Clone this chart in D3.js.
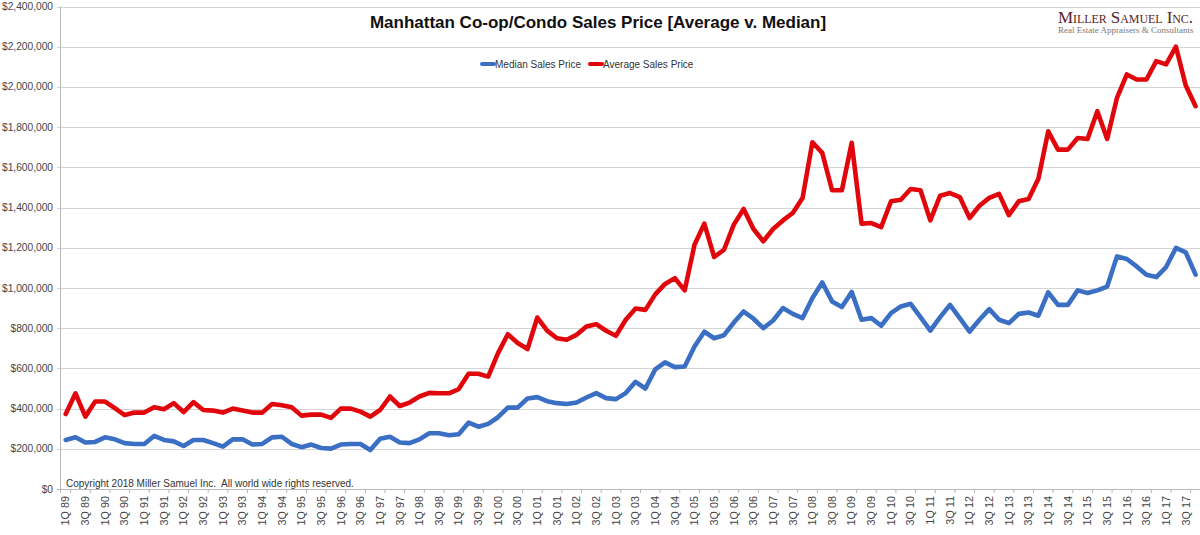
<!DOCTYPE html>
<html><head><meta charset="utf-8">
<script src="https://cdn.jsdelivr.net/npm/d3@7"></script>
<style>body{margin:0;background:#fff}svg{display:block}</style>
</head><body>
<svg id="c" width="1200" height="535"></svg>
<script>
const years = ["89","90","91","92","93","94","95","96","97","98","99","00","01","02","03","04","05","06","07","08","09","10","11","12","13","14","15","16","17"];
const quarters = ["1Q","2Q","3Q","4Q"];
const categories = years.flatMap(y => quarters.map(q => q + " " + y));

// values in $ thousands
const medianK = [244,257,231,234,257,247,228,224,224,264,244,237,214,244,244,228,211,247,247,221,
  224,257,260,224,208,221,204,201,221,224,224,194,250,260,231,228,247,277,277,267,
  272,330,310,324,357,405,405,450,457,437,427,423,430,455,477,452,447,477,533,500,
  595,630,606,609,709,782,750,765,828,883,847,800,838,900,871,850,950,1027,933,905,
  980,842,850,812,875,908,921,855,788,855,916,850,783,842,895,842,825,871,878,862,
  978,916,916,988,975,988,1007,1157,1144,1107,1066,1054,1104,1199,1177,1066];
const averageK = [373,476,360,435,435,402,368,380,380,407,397,427,383,432,393,390,380,400,390,380,
  380,423,417,407,365,370,370,354,400,400,385,360,393,460,413,430,460,478,476,476,
  497,573,573,559,676,770,726,696,853,788,750,742,767,808,820,787,762,842,898,891,
  968,1020,1049,988,1215,1320,1154,1190,1315,1393,1293,1232,1293,1336,1373,1448,1725,1672,1486,1486,
  1722,1320,1323,1303,1431,1439,1492,1486,1336,1459,1472,1452,1348,1409,1448,1468,1362,1431,1443,1543,
  1779,1688,1688,1746,1741,1879,1741,1946,2062,2037,2037,2128,2112,2200,2007,1904];
const yTicks = [0,200000,400000,600000,800000,1000000,1200000,1400000,1600000,1800000,2000000,2200000,2400000];
const seriesNames = ["Median Sales Price","Average Sales Price"];
const seriesColors = ["#3a6fc4","#e0060b"];
const titleText = "Manhattan Co-op/Condo Sales Price [Average v. Median]";
const copyrightText = "Copyright 2018 Miller Samuel Inc.  All world wide rights reserved.";
const logoName = "Miller Samuel Inc.";
const logoSub = "Real Estate Appraisers & Consultants";

const svg = d3.select("#c");
const font = "Arial, 'Liberation Sans', Helvetica, sans-serif";
const serif = "'Liberation Serif', 'Times New Roman', serif";
const plotLeft = 60.8, plotRight = 1200.5, plotTop = 6.5, plotBottom = 489;

const x = d3.scalePoint().domain(categories).range([plotLeft, plotRight]).padding(0.5);
const y = d3.scaleLinear().domain([0, 2400000]).range([plotBottom, plotTop]);
const step = x.step();

// gridlines
svg.append("g").selectAll("line").data(yTicks).join("line")
  .attr("x1", 57).attr("x2", 1200)
  .attr("y1", d => Math.round(y(d)) + 0.5).attr("y2", d => Math.round(y(d)) + 0.5)
  .attr("stroke", d => d === 0 ? "#b8b8b8" : "#d4d4d4").attr("stroke-width", 1);

// y axis line
svg.append("line").attr("x1", 60.5).attr("x2", 60.5).attr("y1", y(2400000)).attr("y2", plotBottom + 4)
  .attr("stroke", "#b8b8b8");

// y labels
svg.append("g").selectAll("text").data(yTicks).join("text")
  .attr("x", 53).attr("y", d => y(d)).attr("dy", "0.35em")
  .attr("text-anchor", "end").attr("font-family", font).attr("font-size", 10.2)
  .attr("fill", "#444").text(d => "$" + d3.format(",")(d));

// x tick marks (every two categories)
const tickIdx = d3.range(1, categories.length, 2);
svg.append("g").selectAll("line").data(tickIdx).join("line")
  .attr("x1", i => plotLeft + step * i).attr("x2", i => plotLeft + step * i)
  .attr("y1", plotBottom).attr("y2", plotBottom + 4).attr("stroke", "#b8b8b8");

// x labels
svg.append("g").selectAll("text").data(categories.filter((c, i) => i % 2 === 0)).join("text")
  .attr("transform", c => `translate(${x(c)},${plotBottom + 7}) rotate(-90)`)
  .attr("text-anchor", "end").attr("dy", "0.35em")
  .attr("font-family", font).attr("font-size", 10.8).attr("fill", "#444").text(c => c);

// lines
const series = [medianK, averageK];
const line = d3.line().x((d, i) => x(categories[i])).y(d => y(d * 1000));
svg.append("g").selectAll("path").data(series).join("path")
  .attr("d", d => line(d)).attr("fill", "none")
  .attr("stroke", (d, i) => seriesColors[i]).attr("stroke-width", 4.6)
  .attr("stroke-linejoin", "round").attr("stroke-linecap", "round");

// title
svg.append("text").attr("x", 598).attr("y", 28).attr("text-anchor", "middle")
  .attr("font-family", font).attr("font-weight", "bold").attr("font-size", 17)
  .attr("fill", "#111").text(titleText);

// legend
const legX = [481, 589];
const lg = svg.append("g");
seriesNames.forEach((n, i) => {
  lg.append("line").attr("x1", legX[i] + 1).attr("x2", legX[i] + 13).attr("y1", 64).attr("y2", 64)
    .attr("stroke", seriesColors[i]).attr("stroke-width", 4).attr("stroke-linecap", "round");
  lg.append("text").attr("x", legX[i] + 14).attr("y", 64).attr("dy", "0.35em")
    .attr("font-family", font).attr("font-size", 10).attr("fill", "#333").text(n);
});

// copyright
svg.append("text").attr("x", 66).attr("y", 483).attr("dy", "0.35em")
  .attr("font-family", font).attr("font-size", 10).attr("fill", "#333")
  .attr("xml:space", "preserve").style("white-space", "pre").text(copyrightText);

// logo
svg.append("text").attr("x", 1058).attr("y", 23)
  .attr("font-family", serif).attr("font-size", 17)
  .style("font-variant", "small-caps").attr("fill", "#5a2326")
  .attr("textLength", 135).attr("lengthAdjust", "spacing").text(logoName);
svg.append("text").attr("x", 1058).attr("y", 33)
  .attr("font-family", serif).attr("font-size", 9)
  .attr("fill", "#777").text(logoSub);
</script>
</body></html>
